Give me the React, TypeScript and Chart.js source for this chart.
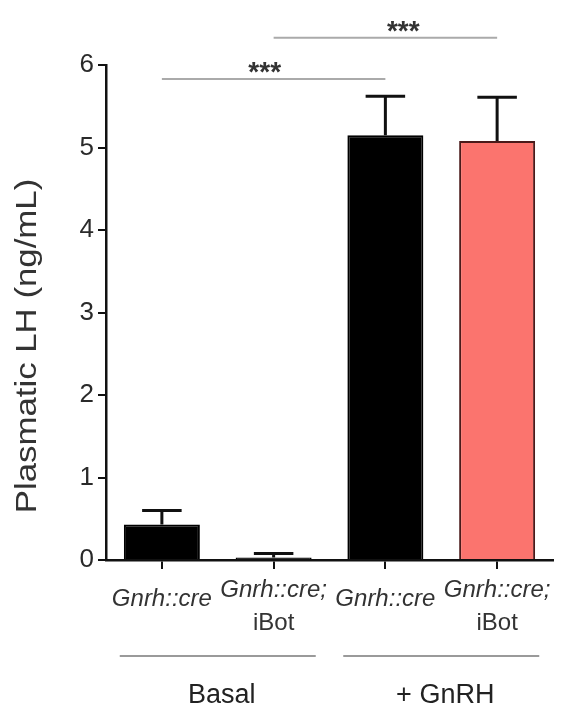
import React, { useEffect, useRef } from 'react';
import { Chart, registerables } from 'chart.js';

Chart.register(...registerables);

// ---- data ----
const labelLine1 = ['Gnrh::cre', 'Gnrh::cre;', 'Gnrh::cre', 'Gnrh::cre;'];
const labelLine2 = ['', 'iBot', '', 'iBot'];
const categories = labelLine1.map((l, i) => (labelLine2[i] ? l + ' ' + labelLine2[i] : l));
const means = [0.43, 0.03, 5.15, 5.08];
const sems = [0.17, 0.05, 0.47, 0.53];
const barColors = ['#000000', '#000000', '#000000', '#fb746e'];
const barBorders = ['#000000', '#000000', '#000000', '#4a1a1a'];
const groupNames = ['Basal', '+ GnRH'];
const groupMembers = [[0, 1], [2, 3]];
const compFrom = [0, 1];
const compTo = [2, 3];
const compLevel = [5.83, 6.33];
const compLabel = ['***', '***'];
const compLabelAt = [0.46, 0.58];
const yTitle = 'Plasmatic LH (ng/mL)';
const yMin = 0;
const yMax = 6;
const yStep = 1;

const FONT = '"Liberation Sans", Arial, Helvetica, sans-serif';

const errorBarsPlugin = {
  id: 'errorBars',
  afterDatasetsDraw(chart: any) {
    const { ctx } = chart;
    const y = chart.scales.y;
    const meta = chart.getDatasetMeta(0);
    ctx.save();
    ctx.strokeStyle = '#111';
    ctx.lineWidth = 3;
    meta.data.forEach((bar: any, i: number) => {
      const p = bar.getProps(['x', 'width'], true);
      const base = y.getPixelForValue(means[i]);
      const top = y.getPixelForValue(means[i] + sems[i]);
      const half = p.width * 0.26;
      ctx.beginPath();
      ctx.moveTo(p.x, base);
      ctx.lineTo(p.x, top);
      ctx.moveTo(p.x - half, top);
      ctx.lineTo(p.x + half, top);
      ctx.stroke();
    });
    ctx.restore();
  },
};

const annotationsPlugin = {
  id: 'annotations',
  afterDraw(chart: any) {
    const { ctx } = chart;
    const x = chart.scales.x;
    const y = chart.scales.y;
    ctx.save();

    // significance brackets
    compFrom.forEach((f, i) => {
      const x1 = x.getPixelForValue(f);
      const x2 = x.getPixelForValue(compTo[i]);
      const py = y.getPixelForValue(compLevel[i]);
      ctx.strokeStyle = '#aaaaaa';
      ctx.lineWidth = 2;
      ctx.beginPath();
      ctx.moveTo(x1, py);
      ctx.lineTo(x2, py);
      ctx.stroke();
      ctx.fillStyle = '#333';
      ctx.font = `bold 28px ${FONT}`;
      ctx.textAlign = 'center';
      ctx.textBaseline = 'alphabetic';
      ctx.fillText(compLabel[i], x1 + (x2 - x1) * compLabelAt[i], py + 2);
    });

    // category labels
    ctx.fillStyle = '#333';
    ctx.textAlign = 'center';
    ctx.textBaseline = 'alphabetic';
    labelLine1.forEach((l, i) => {
      const cx = x.getPixelForValue(i);
      ctx.font = `italic 24px ${FONT}`;
      if (labelLine2[i]) {
        ctx.fillText(l, cx, 597);
        ctx.font = `24px ${FONT}`;
        ctx.fillText(labelLine2[i], cx, 630);
      } else {
        ctx.fillText(l, cx, 606);
      }
    });

    // group lines and labels
    groupMembers.forEach((m, gi) => {
      const a = x.getPixelForValue(m[0]);
      const b = x.getPixelForValue(m[m.length - 1]);
      const c = (a + b) / 2;
      ctx.strokeStyle = '#9a9a9a';
      ctx.lineWidth = 2;
      ctx.beginPath();
      ctx.moveTo(c - 98, 656);
      ctx.lineTo(c + 98, 656);
      ctx.stroke();
      ctx.fillStyle = '#222';
      ctx.font = `27px ${FONT}`;
      ctx.fillText(groupNames[gi], c + 4, 703);
    });

    // y title
    ctx.save();
    ctx.translate(28, 346);
    ctx.rotate(-Math.PI / 2);
    ctx.scale(1.2, 1);
    ctx.fillStyle = '#333';
    ctx.font = `29px ${FONT}`;
    ctx.textAlign = 'center';
    ctx.textBaseline = 'middle';
    ctx.fillText(yTitle, 0, 0);
    ctx.restore();

    ctx.restore();
  },
};

export default function App() {
  const ref = useRef<HTMLCanvasElement | null>(null);
  useEffect(() => {
    if (!ref.current) return;
    const chart = new Chart(ref.current, {
      type: 'bar',
      data: {
        labels: categories,
        datasets: [
          {
            data: means,
            backgroundColor: barColors,
            borderColor: barBorders,
            borderWidth: 2,
            barPercentage: 0.68,
            categoryPercentage: 1,
          },
        ],
      },
      options: {
        animation: false,
        responsive: true,
        maintainAspectRatio: false,
        layout: { padding: { left: 0, right: 9, top: 65, bottom: 0 } },
        plugins: { legend: { display: false }, tooltip: { enabled: false } },
        scales: {
          x: {
            offset: true,
            grid: {
              offset: false,
              drawOnChartArea: false,
              drawTicks: true,
              tickLength: 9,
              color: '#111',
              lineWidth: 2,
            },
            border: { display: true, color: '#111', width: 2.5 },
            ticks: { display: false },
            afterFit: (s: any) => {
              s.height = 148;
            },
          },
          y: {
            min: yMin,
            max: yMax,
            ticks: {
              stepSize: yStep,
              color: '#2a2a2a',
              font: { family: FONT, size: 26 },
              padding: 4,
            },
            grid: {
              drawOnChartArea: false,
              drawTicks: true,
              tickLength: 8,
              color: '#111',
              lineWidth: 2,
            },
            border: { display: true, color: '#111', width: 2.5 },
            afterFit: (s: any) => {
              s.width = 106;
            },
          },
        },
      },
      plugins: [errorBarsPlugin, annotationsPlugin],
    });
    return () => chart.destroy();
  }, []);
  return (
    <div style={{ position: 'fixed', left: 0, top: 0, width: 562, height: 708, background: '#fff' }}>
      <canvas ref={ref} />
    </div>
  );
}
